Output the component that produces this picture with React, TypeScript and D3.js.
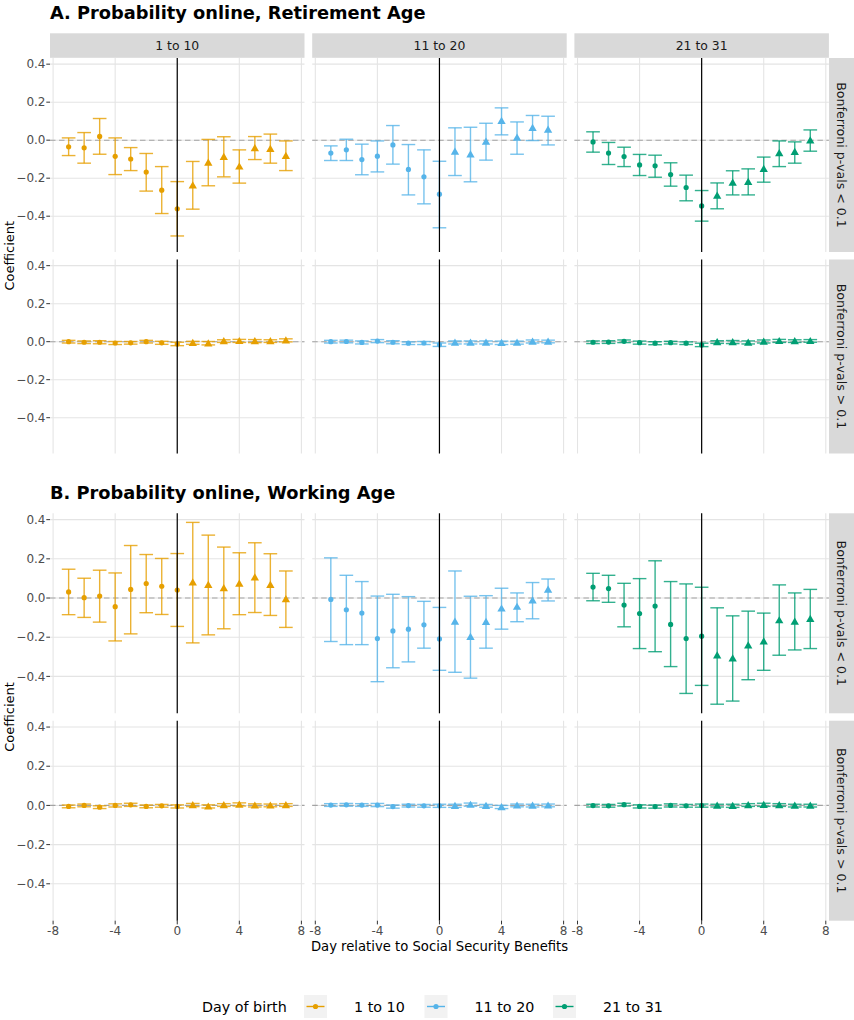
import React from "react";
import * as d3 from "d3";

// Days relative to the benefit payment date
const days = [-7, -6, -5, -4, -3, -2, -1, 0, 1, 2, 3, 4, 5, 6, 7];
const groups = ["1 to 10", "11 to 20", "21 to 31"];
const groupColors = ["#E69F00", "#56B4E9", "#009E73"];
const rowLabels = ["Bonferroni p-vals < 0.1", "Bonferroni p-vals > 0.1"];
const xTicks = [-8, -4, 0, 4, 8];
const yTicks = [-0.4, -0.2, 0, 0.2, 0.4];

// A. Retirement age, Bonferroni p < 0.1
const retireSigEst = [
  [-0.035, -0.04, 0.02, -0.085, -0.099, -0.168, -0.263, -0.361, -0.237, -0.118, -0.087, -0.138, -0.041, -0.045, -0.082],
  [-0.068, -0.051, -0.102, -0.084, -0.025, -0.154, -0.193, -0.284, -0.06, -0.074, -0.007, 0.102, 0.014, 0.065, 0.056],
  [-0.009, -0.068, -0.086, -0.13, -0.135, -0.181, -0.249, -0.346, -0.291, -0.223, -0.219, -0.151, -0.068, -0.061, 0.0],
];
const retireSigLo = [
  [-0.081, -0.121, -0.074, -0.181, -0.16, -0.268, -0.386, -0.504, -0.363, -0.24, -0.193, -0.226, -0.102, -0.121, -0.16],
  [-0.107, -0.107, -0.182, -0.167, -0.126, -0.288, -0.335, -0.461, -0.186, -0.219, -0.105, 0.028, -0.074, -0.002, -0.025],
  [-0.063, -0.128, -0.139, -0.186, -0.195, -0.242, -0.319, -0.426, -0.361, -0.288, -0.288, -0.221, -0.139, -0.121, -0.058],
];
const retireSigHi = [
  [0.012, 0.04, 0.114, 0.012, -0.039, -0.07, -0.139, -0.218, -0.112, 0.004, 0.018, -0.051, 0.019, 0.032, -0.004],
  [-0.03, 0.005, -0.021, -0.004, 0.077, -0.023, -0.051, -0.111, 0.065, 0.068, 0.089, 0.17, 0.096, 0.13, 0.126],
  [0.044, -0.012, -0.037, -0.075, -0.079, -0.119, -0.184, -0.265, -0.225, -0.161, -0.151, -0.089, -0.004, -0.009, 0.054],
];

// A. Retirement age, Bonferroni p > 0.1
const retireNsEst = [
  [0.0, -0.003, -0.003, -0.007, -0.006, 0.0, -0.006, -0.012, -0.006, -0.008, 0.003, 0.004, 0.003, 0.003, 0.007],
  [0.0, 0.001, -0.004, 0.003, -0.003, -0.008, -0.007, -0.016, -0.004, -0.004, -0.004, -0.006, -0.005, 0.001, 0.001],
  [-0.003, -0.002, 0.002, -0.005, -0.008, -0.005, -0.008, -0.017, -0.002, -0.002, -0.004, 0.001, 0.004, 0.003, 0.004],
];
const retireNsHalf = [
  [0.007, 0.007, 0.008, 0.008, 0.007, 0.007, 0.008, 0.009, 0.008, 0.009, 0.007, 0.008, 0.008, 0.007, 0.008],
  [0.007, 0.007, 0.008, 0.008, 0.008, 0.007, 0.008, 0.009, 0.008, 0.008, 0.008, 0.009, 0.008, 0.008, 0.007],
  [0.007, 0.007, 0.007, 0.008, 0.008, 0.007, 0.007, 0.009, 0.007, 0.008, 0.008, 0.008, 0.008, 0.007, 0.007],
];

// B. Working age, Bonferroni p < 0.1
const workSigEst = [
  [0.031, 0.002, 0.01, -0.044, 0.044, 0.074, 0.06, 0.041, 0.08, 0.068, 0.051, 0.074, 0.106, 0.068, -0.005],
  [-0.007, -0.06, -0.077, -0.207, -0.168, -0.159, -0.137, -0.209, -0.12, -0.198, -0.121, -0.053, -0.044, -0.012, 0.043],
  [0.056, 0.048, -0.036, -0.079, -0.041, -0.135, -0.207, -0.195, -0.292, -0.308, -0.241, -0.221, -0.113, -0.12, -0.106],
];
const workSigLo = [
  [-0.085, -0.099, -0.123, -0.219, -0.183, -0.075, -0.084, -0.145, -0.229, -0.188, -0.157, -0.085, -0.074, -0.089, -0.15],
  [-0.222, -0.238, -0.238, -0.427, -0.356, -0.326, -0.256, -0.369, -0.379, -0.409, -0.256, -0.159, -0.121, -0.106, -0.015],
  [-0.014, -0.022, -0.147, -0.258, -0.274, -0.35, -0.487, -0.446, -0.542, -0.526, -0.417, -0.369, -0.292, -0.265, -0.258],
];
const workSigHi = [
  [0.147, 0.101, 0.142, 0.128, 0.268, 0.222, 0.202, 0.227, 0.386, 0.321, 0.26, 0.231, 0.282, 0.226, 0.138],
  [0.205, 0.116, 0.084, 0.01, 0.019, 0.007, -0.017, -0.048, 0.138, 0.009, 0.012, 0.05, 0.026, 0.079, 0.097],
  [0.126, 0.116, 0.075, 0.099, 0.19, 0.084, 0.072, 0.055, -0.05, -0.091, -0.067, -0.077, 0.067, 0.026, 0.044],
];

// B. Working age, Bonferroni p > 0.1
const workNsEst = [
  [-0.005, 0.0, -0.009, 0.0, 0.003, -0.005, -0.002, -0.005, 0.002, -0.005, 0.002, 0.005, 0.0, 0.0, 0.002],
  [0.002, 0.003, 0.002, 0.002, -0.006, -0.001, -0.002, -0.002, -0.002, 0.004, -0.002, -0.008, 0.0, -0.001, 0.0],
  [-0.001, -0.002, 0.004, -0.005, -0.006, 0.0, -0.002, -0.001, -0.001, -0.002, 0.002, 0.003, 0.002, -0.001, -0.001],
];
const workNsHalf = [
  [0.007, 0.007, 0.007, 0.008, 0.008, 0.007, 0.007, 0.008, 0.008, 0.008, 0.007, 0.008, 0.008, 0.007, 0.007],
  [0.007, 0.007, 0.007, 0.008, 0.008, 0.007, 0.007, 0.008, 0.008, 0.008, 0.007, 0.008, 0.007, 0.007, 0.007],
  [0.007, 0.007, 0.007, 0.008, 0.008, 0.008, 0.007, 0.008, 0.007, 0.008, 0.007, 0.008, 0.007, 0.007, 0.007],
];

type Pt = { day: number; est: number; lo: number; hi: number };

function fromBounds(est: number[], lo: number[], hi: number[]): Pt[] {
  return days.map((d, i) => ({ day: d, est: est[i], lo: lo[i], hi: hi[i] }));
}
function fromHalf(est: number[], half: number[]): Pt[] {
  return days.map((d, i) => ({ day: d, est: est[i], lo: est[i] - half[i], hi: est[i] + half[i] }));
}

const FONT = "'DejaVu Sans', Verdana, sans-serif";

const panelX0 = [50, 312.2, 574.4];
const panelW = 254.5;

const blocks = [
  {
    title: "A. Probability online, Retirement Age",
    titleY: 18.5,
    strip: [33.3, 57.8] as [number, number] | null,
    rows: [
      [58, 252],
      [259.5, 453.5],
    ],
    data: [
      groups.map((_, g) => fromBounds(retireSigEst[g], retireSigLo[g], retireSigHi[g])),
      groups.map((_, g) => fromHalf(retireNsEst[g], retireNsHalf[g])),
    ],
    xAxis: false,
  },
  {
    title: "B. Probability online, Working Age",
    titleY: 499.3,
    strip: null,
    rows: [
      [513.3, 713.3],
      [720.7, 920.7],
    ],
    data: [
      groups.map((_, g) => fromBounds(workSigEst[g], workSigLo[g], workSigHi[g])),
      groups.map((_, g) => fromHalf(workNsEst[g], workNsHalf[g])),
    ],
    xAxis: true,
  },
];

// Shared y limits across both blocks, with the usual 5% padding
const allVals = blocks.flatMap((b) => b.data.flatMap((r) => r.flatMap((s) => s.flatMap((p) => [p.lo, p.hi]))));
const [yMin, yMax] = d3.extent(allVals) as [number, number];
const yPad = (yMax - yMin) * 0.05;
const yDomain: [number, number] = [yMin - yPad, yMax + yPad];

const capWidth = 0.88;
const xDomain: [number, number] = [-8.2, 8.2];

const triangle = d3.symbol().type(d3.symbolTriangle).size(30)();

function Panel({ x0, top, bottom, series, color, showYAxis, showXAxis }: any) {
  const x = d3.scaleLinear().domain(xDomain).range([x0, x0 + panelW]);
  const y = d3.scaleLinear().domain(yDomain).range([bottom, top]);
  const grid = "#e4e4e4";
  return (
    <g>
      {yTicks.map((t) => (
        <line key={"gy" + t} x1={x0} x2={x0 + panelW} y1={y(t)} y2={y(t)} stroke={grid} strokeWidth={1.07} />
      ))}
      {xTicks.map((t) => (
        <line key={"gx" + t} x1={x(t)} x2={x(t)} y1={top} y2={bottom} stroke={grid} strokeWidth={1.07} />
      ))}
      <line x1={x0} x2={x0 + panelW} y1={y(0)} y2={y(0)} stroke="#a3a3a3" strokeWidth={1.1} strokeDasharray="5.5,3.5" />
      {series.map((p: Pt) => {
        const cx = x(p.day);
        const hw = (x(capWidth) - x(0)) / 2;
        return (
          <g key={p.day} stroke={color} strokeWidth={1.4} strokeOpacity={0.8}>
            <line x1={cx} x2={cx} y1={y(p.lo)} y2={y(p.hi)} />
            <line x1={cx - hw} x2={cx + hw} y1={y(p.lo)} y2={y(p.lo)} />
            <line x1={cx - hw} x2={cx + hw} y1={y(p.hi)} y2={y(p.hi)} />
          </g>
        );
      })}
      {series.map((p: Pt) =>
        p.day <= 0 ? (
          <circle key={"p" + p.day} cx={x(p.day)} cy={y(p.est)} r={2.6} fill={color} />
        ) : (
          <path key={"p" + p.day} d={triangle as string} transform={`translate(${x(p.day)},${y(p.est) + 0.8})`} fill={color} />
        )
      )}
      <line x1={x(0)} x2={x(0)} y1={top} y2={bottom} stroke="#000" strokeWidth={1.2} />
      {showYAxis &&
        yTicks.map((t) => (
          <g key={"ty" + t}>
            <line x1={x0 - 3.7} x2={x0} y1={y(t)} y2={y(t)} stroke="#333" strokeWidth={1} />
            <text x={x0 - 4.5} y={y(t)} dy="0.35em" textAnchor="end" fontSize={12} fill="#4d4d4d">
              {t === 0 ? "0.0" : d3.format(".1f")(t)}
            </text>
          </g>
        ))}
      {showXAxis &&
        xTicks.map((t) => (
          <g key={"tx" + t}>
            <line x1={x(t)} x2={x(t)} y1={bottom} y2={bottom + 3.7} stroke="#333" strokeWidth={1} />
            <text x={x(t)} y={bottom + 10} dy="0.35em" textAnchor="middle" fontSize={12} fill="#4d4d4d">
              {t}
            </text>
          </g>
        ))}
    </g>
  );
}

export default function App() {
  const stripFill = "#d9d9d9";
  const stripRight = [829, 854];
  return (
    <svg width={854} height={1020} style={{ position: "absolute", left: 0, top: 0, background: "#fff" }} fontFamily={FONT}>
      <rect x={0} y={0} width={854} height={1020} fill="#fff" />
      {blocks.map((b, bi) => {
        const yCenter = (b.rows[0][0] + b.rows[1][1]) / 2;
        return (
          <g key={bi}>
            <text x={50} y={b.titleY} fontSize={17.8} fontWeight="bold" fill="#000">
              {b.title}
            </text>
            {b.strip &&
              groups.map((g, gi) => (
                <g key={"s" + gi}>
                  <rect x={panelX0[gi]} y={b.strip![0]} width={panelW} height={b.strip![1] - b.strip![0]} fill={stripFill} />
                  <text x={panelX0[gi] + panelW / 2} y={(b.strip![0] + b.strip![1]) / 2} dy="0.35em" textAnchor="middle" fontSize={12.4} fill="#1a1a1a">
                    {g}
                  </text>
                </g>
              ))}
            {b.rows.map((r, ri) => (
              <g key={"r" + ri}>
                <rect x={stripRight[0]} y={r[0]} width={stripRight[1] - stripRight[0]} height={r[1] - r[0]} fill={stripFill} />
                <text
                  transform={`translate(${(stripRight[0] + stripRight[1]) / 2},${(r[0] + r[1]) / 2}) rotate(90)`}
                  dy="0.35em"
                  textAnchor="middle"
                  fontSize={12.6}
                  fill="#1a1a1a"
                >
                  {rowLabels[ri]}
                </text>
                {groups.map((g, gi) => (
                  <Panel
                    key={g}
                    x0={panelX0[gi]}
                    top={r[0]}
                    bottom={r[1]}
                    series={b.data[ri][gi]}
                    color={groupColors[gi]}
                    showYAxis={gi === 0}
                    showXAxis={b.xAxis && ri === 1}
                  />
                ))}
              </g>
            ))}
            <text transform={`translate(9.5,${yCenter}) rotate(-90)`} dy="0.35em" textAnchor="middle" fontSize={13} fill="#000">
              Coefficient
            </text>
          </g>
        );
      })}
      <text x={439.5} y={946.5} dy="0.35em" textAnchor="middle" fontSize={13.2} fill="#000">
        Day relative to Social Security Benefits
      </text>
      {/* legend */}
      <g fontSize={14.3}>
        <text x={202} y={1006.5} dy="0.35em" fill="#000">
          Day of birth
        </text>
        {groups.map((g, gi) => {
          const kx = [304, 424.5, 553][gi];
          return (
            <g key={"l" + gi}>
              <rect x={kx} y={995} width={23} height={23} fill="#f2f2f2" />
              <line x1={kx + 2.5} x2={kx + 20.5} y1={1006.5} y2={1006.5} stroke={groupColors[gi]} strokeWidth={1.4} />
              <circle cx={kx + 11.5} cy={1006.5} r={2.6} fill={groupColors[gi]} />
              <text x={kx + 50} y={1006.5} dy="0.35em" fill="#000">
                {g}
              </text>
            </g>
          );
        })}
      </g>
    </svg>
  );
}
